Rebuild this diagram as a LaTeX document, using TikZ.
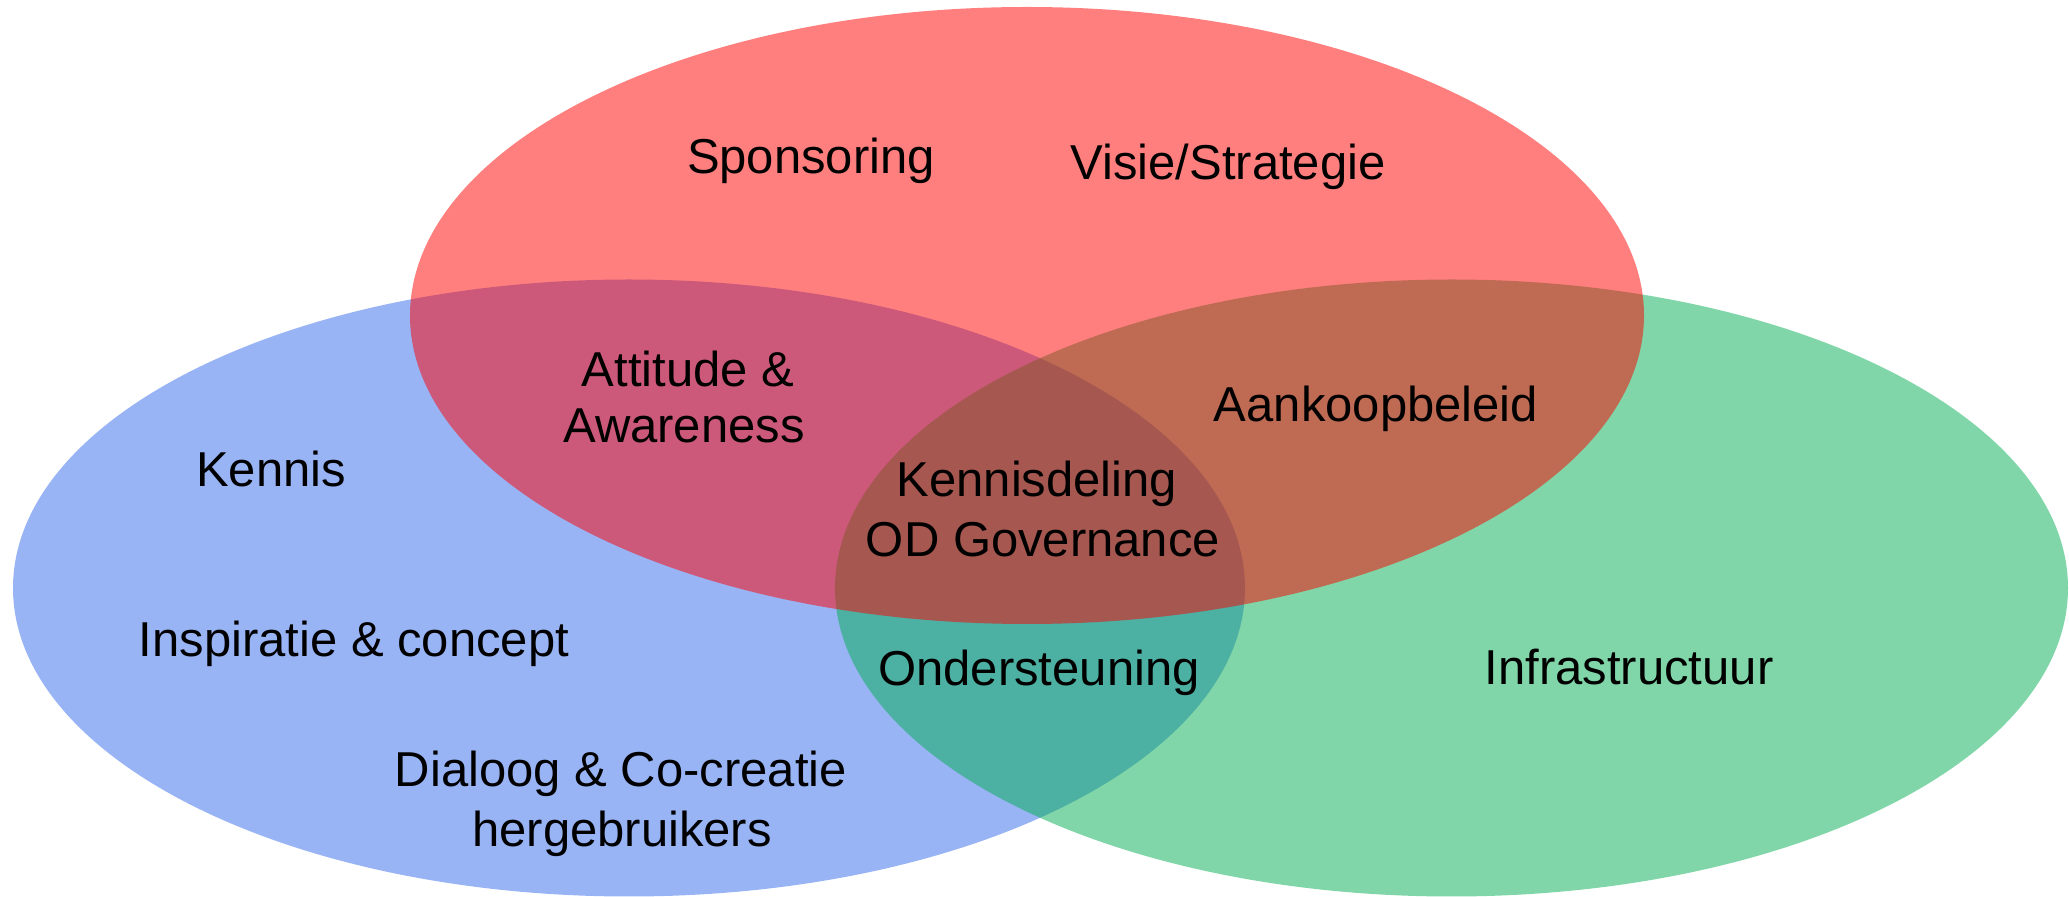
\documentclass[tikz,border=0pt]{standalone}
\usepackage{fontspec}
\setmainfont{Liberation Sans}
\definecolor{vblue}{RGB}{51,105,235}
\definecolor{vgreen}{RGB}{1,173,81}
\definecolor{vred}{RGB}{255,0,0}
\begin{document}
\begin{tikzpicture}[x=0.5pt,y=-0.5pt,
  setfill/.style={fill opacity=0.5},
  lbl/.style={anchor=base,inner sep=0pt,font=\fontsize{24.5}{29}\selectfont,text=black}]
\useasboundingbox (0,0) rectangle (2069,897);
% sets
\fill[vblue,setfill] (629,588) ellipse [x radius=308pt, y radius=154.25pt];
\fill[vgreen,setfill] (1451.5,588) ellipse [x radius=308.25pt, y radius=154.25pt];
\fill[vred,setfill] (1027,315.5) ellipse [x radius=308.5pt, y radius=154.25pt];
% labels
\node[lbl] (spons) at (811,174) {Sponsoring};
\node[lbl] (visie) at (1228,180) {Visie/Strategie};
\node[lbl] (att1) at (688,387) {Attitude \&};
\node[lbl] (att2) at (684,443) {Awareness};
\node[lbl] (aank) at (1376,422) {Aankoopbeleid};
\node[lbl] (kennis) at (271,487) {Kennis};
\node[lbl] (kd1) at (1037,497) {Kennisdeling};
\node[lbl] (kd2) at (1043,557) {OD Governance};
\node[lbl] (insp) at (354,657) {Inspiratie \& concept};
\node[lbl] (onder) at (1039,686) {Ondersteuning};
\node[lbl] (infra) at (1629,685) {Infrastructuur};
\node[lbl] (dia1) at (621,787) {Dialoog \& Co-creatie};
\node[lbl] (dia2) at (622,847) {hergebruikers};
\end{tikzpicture}
\end{document}
